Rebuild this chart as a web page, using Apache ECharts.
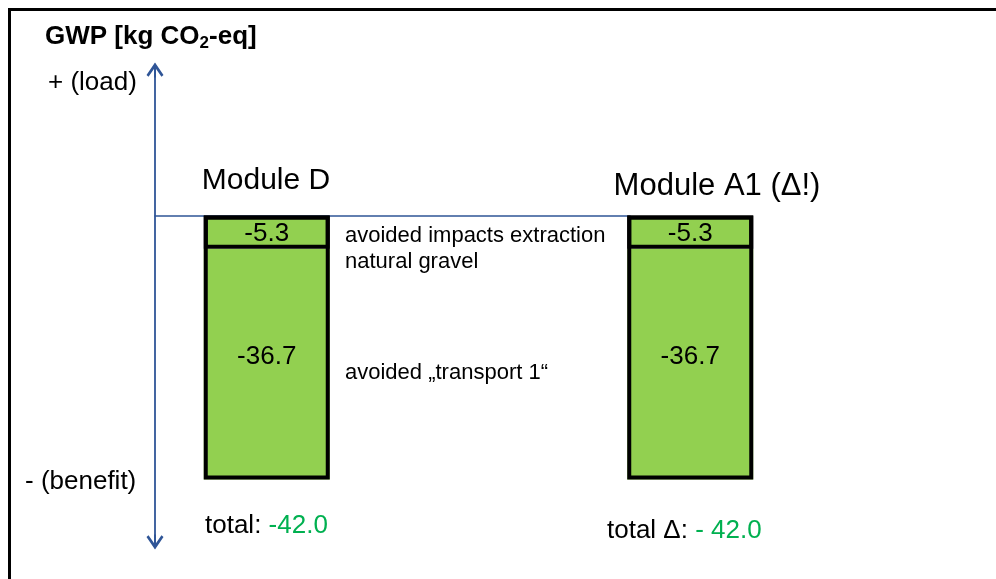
<!DOCTYPE html>
<html>
<head>
<meta charset="utf-8">
<script src="https://cdn.jsdelivr.net/npm/echarts@6/dist/echarts.min.js"></script>
<style>
  html, body { margin: 0; padding: 0; background: #fff; }
  #chart { width: 996px; height: 579px; }
</style>
</head>
<body>
<div id="chart"></div>
<script>
// data
const modules = ['Module D', 'Module A1 (Δ!)']
const extraction = [-5.3, -5.3]      // avoided impacts extraction natural gravel
const transport = [-36.7, -36.7]     // avoided "transport 1"
const totalPrefix = ['total: ', 'total Δ: ']
const notes = ['avoided impacts extraction', 'natural gravel', 'avoided „transport 1“']

const blue = '#2f5597'
const green = '#92d050'
const font = '"Liberation Sans", Arial, sans-serif'

const totals = modules.map((m, i) => extraction[i] + transport[i])
const fmtTotal = (v, i) => (i === 0 ? v.toFixed(1) : '- ' + Math.abs(v).toFixed(1))

// chevron arrow head (points up) with a short stem
const arrowPath = 'path://M8,0 L16,11.6 L14.1,13.3 L8,4.6 L1.9,13.3 L0,11.6 Z M7.1,0.8 L8.9,0.8 L8.9,14 L7.1,14 Z'

const yMin = -51.94
const yMax = 23.15

const chart = echarts.init(document.getElementById('chart'))

const labelStyle = {
  show: true,
  position: 'inside',
  fontSize: 26,
  fontFamily: font,
  color: '#000',
  formatter: (p) => p.value.toFixed(1)
}

const options = {
  backgroundColor: '#fff',
  animation: false,
  textStyle: { fontFamily: font },
  grid: [
    // 坐标箭头 + 零线
    { left: 155, right: 366, top: 70, bottom: 37 },
    // 柱子
    { left: 55, right: 94, top: 70, bottom: 37 }
  ],
  xAxis: [
    {
      gridIndex: 0,
      type: 'value',
      min: 0,
      max: 1,
      axisLine: { show: true, onZero: true, lineStyle: { color: blue, width: 1.6 } },
      axisTick: { show: false },
      axisLabel: { show: false },
      splitLine: { show: false }
    },
    {
      gridIndex: 1,
      type: 'category',
      data: modules,
      show: false
    }
  ],
  yAxis: [
    {
      gridIndex: 0,
      type: 'value',
      min: yMin,
      max: yMax,
      axisLine: {
        show: true,
        onZero: false,
        symbol: [arrowPath, arrowPath],
        symbolSize: [17, 15],
        lineStyle: { color: blue, width: 1.8 }
      },
      axisTick: { show: false },
      axisLabel: { show: false },
      splitLine: { show: false }
    },
    {
      gridIndex: 1,
      type: 'value',
      min: yMin,
      max: yMax,
      show: false,
      splitLine: { show: false }
    }
  ],
  series: [
    {
      name: 'extraction',
      type: 'bar',
      xAxisIndex: 1,
      yAxisIndex: 1,
      stack: 'gwp',
      barWidth: 126,
      barGap: '-100%',
      z: 3,
      data: extraction,
      itemStyle: { color: green, borderColor: '#000', borderWidth: 4 },
      label: { ...labelStyle, offset: [0, 2] }
    },
    {
      name: 'transport',
      type: 'bar',
      xAxisIndex: 1,
      yAxisIndex: 1,
      stack: 'gwp',
      barWidth: 126,
      barGap: '-100%',
      z: 2,
      data: transport,
      itemStyle: { color: green, borderWidth: 0 },
      label: { ...labelStyle, offset: [0, -7] }
    },
    {
      // 外框
      name: 'total',
      type: 'bar',
      xAxisIndex: 1,
      yAxisIndex: 1,
      barWidth: 126,
      barGap: '-100%',
      z: 4,
      silent: true,
      data: totals,
      itemStyle: { color: 'rgba(0,0,0,0)', borderColor: '#000', borderWidth: 4 }
    }
  ],
  graphic: [
    // 外框 (只看得到上边和左边)
    {
      type: 'rect',
      shape: { x: 9.5, y: 9.5, width: 1100, height: 700 },
      style: { fill: 'none', stroke: '#000', lineWidth: 3 },
      silent: true
    },
    {
      type: 'text', x: 45, y: 37,
      style: {
        text: '{b|GWP [kg CO}{s|2}{b|-eq]}',
        rich: {
          b: { fontSize: 26, fontWeight: 'bold', fontFamily: font, fill: '#000' },
          s: { fontSize: 17, fontWeight: 'bold', fontFamily: font, fill: '#000', padding: [13, 0, 0, 0] }
        },
        textVerticalAlign: 'middle'
      }
    },
    {
      type: 'text', x: 48, y: 83,
      style: { text: '+ (load)', font: '26px ' + font, fill: '#000', textVerticalAlign: 'middle' }
    },
    {
      type: 'text', x: 25, y: 482,
      style: { text: '- (benefit)', font: '26px ' + font, fill: '#000', textVerticalAlign: 'middle' }
    },
    {
      type: 'text', x: 266, y: 181,
      style: { text: modules[0], font: '30px ' + font, fill: '#000', textAlign: 'center', textVerticalAlign: 'middle' }
    },
    {
      type: 'text', x: 717, y: 186,
      style: { text: modules[1], font: '31px ' + font, fill: '#000', textAlign: 'center', textVerticalAlign: 'middle' }
    },
    {
      type: 'text', x: 345, y: 236,
      style: { text: notes[0], font: '22px ' + font, fill: '#000', textVerticalAlign: 'middle' }
    },
    {
      type: 'text', x: 345, y: 262,
      style: { text: notes[1], font: '22px ' + font, fill: '#000', textVerticalAlign: 'middle' }
    },
    {
      type: 'text', x: 345, y: 373,
      style: { text: notes[2], font: '22px ' + font, fill: '#000', textVerticalAlign: 'middle' }
    },
    {
      type: 'text', x: 205, y: 526,
      style: {
        text: '{k|' + totalPrefix[0] + '}{g|' + fmtTotal(totals[0], 0) + '}',
        rich: {
          k: { fontSize: 26, fontFamily: font, fill: '#000' },
          g: { fontSize: 26, fontFamily: font, fill: '#00b050' }
        },
        textVerticalAlign: 'middle'
      }
    },
    {
      type: 'text', x: 607, y: 531,
      style: {
        text: '{k|' + totalPrefix[1] + '}{g|' + fmtTotal(totals[1], 1) + '}',
        rich: {
          k: { fontSize: 26, fontFamily: font, fill: '#000' },
          g: { fontSize: 26, fontFamily: font, fill: '#00b050' }
        },
        textVerticalAlign: 'middle'
      }
    }
  ]
}

chart.setOption(options)

window.addEventListener('resize', () => {
  chart.resize()
})
</script>
</body>
</html>
